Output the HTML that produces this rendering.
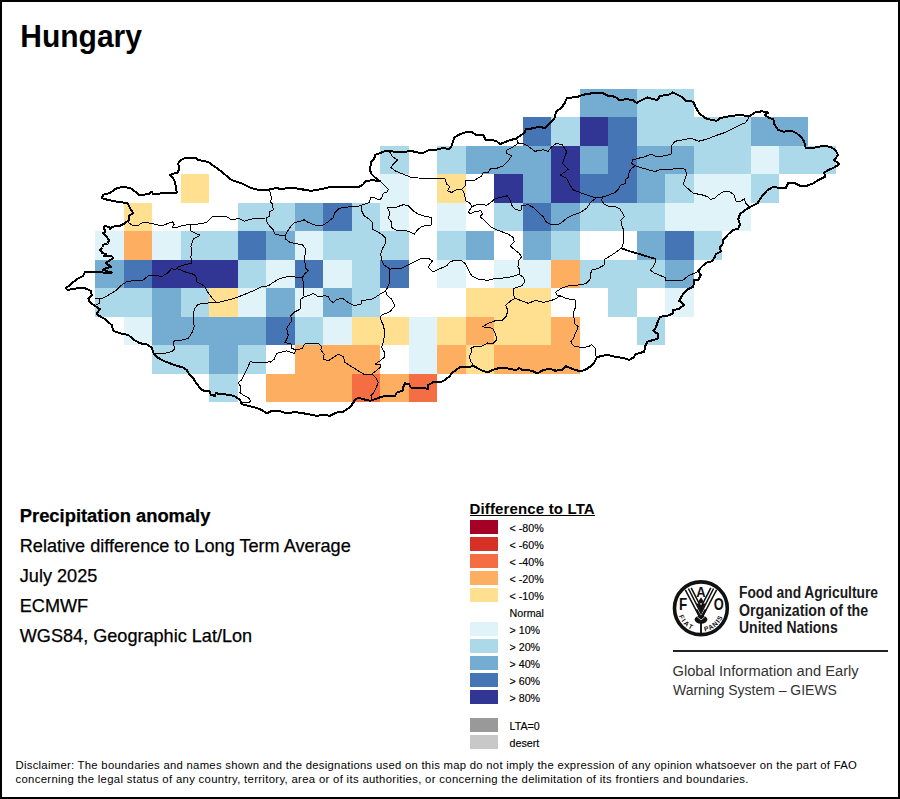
<!DOCTYPE html>
<html lang="en"><head><meta charset="utf-8"><title>Hungary - Precipitation anomaly</title>
<style>
html,body{margin:0;padding:0;background:#fff}
body{width:900px;height:799px;position:relative;overflow:hidden;font-family:"Liberation Sans",sans-serif;color:#000}
#frame{position:absolute;left:0;top:0;width:896px;height:795px;border:2px solid #000}
#map{position:absolute;left:0;top:0}
.abs{position:absolute;white-space:nowrap}
#title{left:20.3px;top:19px;font-size:30px;font-weight:bold;line-height:34px;transform-origin:0 0;transform:scaleY(1.055)}
.info{left:19.8px;font-size:18.1px;line-height:20px;-webkit-text-stroke:0.25px #000}
#legtitle{left:469.5px;top:499.5px;font-size:15px;font-weight:bold;line-height:17px;letter-spacing:0.15px}
#legul{position:absolute;left:470px;top:515px;width:125px;height:1px;background:#000}
.sw{position:absolute;left:470px;width:28px;height:14px}
.ll{position:absolute;left:509.5px;font-size:10.7px;line-height:14px;margin-top:0.5px;white-space:nowrap;-webkit-text-stroke:0.15px #000}
.fao{left:739px;font-size:16px;font-weight:bold;line-height:17.5px;color:#1a1a1a;transform-origin:0 0}
#rule{position:absolute;left:673px;top:650px;width:215px;height:1.5px;background:#222}
.giews{left:672.5px;font-size:14.7px;line-height:18.6px;color:#333;transform-origin:0 0}
  .disc{left:15.5px;font-size:11.3px;line-height:14px;letter-spacing:0.277px;color:#000}
</style></head><body>
<div id="frame"></div>
<svg id="map" width="900" height="799" viewBox="0 0 900 799">
<g shape-rendering="crispEdges">
<rect x="580" y="89" width="57" height="28" fill="#74add1"/>
<rect x="637" y="89" width="57" height="28" fill="#abd9e9"/>
<rect x="523" y="117" width="28" height="29" fill="#4575b4"/>
<rect x="551" y="117" width="29" height="29" fill="#abd9e9"/>
<rect x="580" y="117" width="28" height="29" fill="#313695"/>
<rect x="608" y="117" width="29" height="29" fill="#4575b4"/>
<rect x="637" y="117" width="114" height="29" fill="#abd9e9"/>
<rect x="751" y="117" width="57" height="29" fill="#74add1"/>
<rect x="380" y="146" width="29" height="28" fill="#abd9e9"/>
<rect x="437" y="146" width="29" height="28" fill="#abd9e9"/>
<rect x="466" y="146" width="85" height="28" fill="#74add1"/>
<rect x="551" y="146" width="29" height="28" fill="#313695"/>
<rect x="580" y="146" width="28" height="28" fill="#74add1"/>
<rect x="608" y="146" width="29" height="28" fill="#4575b4"/>
<rect x="637" y="146" width="57" height="28" fill="#74add1"/>
<rect x="694" y="146" width="57" height="28" fill="#abd9e9"/>
<rect x="751" y="146" width="28" height="28" fill="#e0f3f8"/>
<rect x="779" y="146" width="57" height="28" fill="#abd9e9"/>
<rect x="181" y="174" width="28" height="29" fill="#fee090"/>
<rect x="380" y="174" width="29" height="29" fill="#e0f3f8"/>
<rect x="437" y="174" width="29" height="29" fill="#fee090"/>
<rect x="494" y="174" width="29" height="29" fill="#313695"/>
<rect x="523" y="174" width="28" height="29" fill="#74add1"/>
<rect x="551" y="174" width="29" height="29" fill="#313695"/>
<rect x="580" y="174" width="57" height="29" fill="#4575b4"/>
<rect x="637" y="174" width="28" height="29" fill="#74add1"/>
<rect x="665" y="174" width="29" height="29" fill="#abd9e9"/>
<rect x="694" y="174" width="57" height="29" fill="#e0f3f8"/>
<rect x="751" y="174" width="28" height="29" fill="#abd9e9"/>
<rect x="124" y="203" width="28" height="28" fill="#fee090"/>
<rect x="238" y="203" width="57" height="28" fill="#abd9e9"/>
<rect x="295" y="203" width="28" height="28" fill="#74add1"/>
<rect x="323" y="203" width="29" height="28" fill="#4575b4"/>
<rect x="352" y="203" width="28" height="28" fill="#abd9e9"/>
<rect x="380" y="203" width="29" height="28" fill="#e0f3f8"/>
<rect x="437" y="203" width="29" height="28" fill="#e0f3f8"/>
<rect x="494" y="203" width="29" height="28" fill="#abd9e9"/>
<rect x="523" y="203" width="28" height="28" fill="#4575b4"/>
<rect x="551" y="203" width="29" height="28" fill="#74add1"/>
<rect x="580" y="203" width="85" height="28" fill="#abd9e9"/>
<rect x="665" y="203" width="86" height="28" fill="#e0f3f8"/>
<rect x="95" y="231" width="29" height="29" fill="#e0f3f8"/>
<rect x="124" y="231" width="28" height="29" fill="#fdae61"/>
<rect x="152" y="231" width="29" height="29" fill="#e0f3f8"/>
<rect x="181" y="231" width="57" height="29" fill="#abd9e9"/>
<rect x="238" y="231" width="28" height="29" fill="#4575b4"/>
<rect x="266" y="231" width="29" height="29" fill="#74add1"/>
<rect x="295" y="231" width="28" height="29" fill="#e0f3f8"/>
<rect x="323" y="231" width="86" height="29" fill="#abd9e9"/>
<rect x="437" y="231" width="29" height="29" fill="#abd9e9"/>
<rect x="466" y="231" width="28" height="29" fill="#74add1"/>
<rect x="523" y="231" width="28" height="29" fill="#74add1"/>
<rect x="551" y="231" width="29" height="29" fill="#abd9e9"/>
<rect x="637" y="231" width="28" height="29" fill="#74add1"/>
<rect x="665" y="231" width="29" height="29" fill="#4575b4"/>
<rect x="694" y="231" width="28" height="29" fill="#abd9e9"/>
<rect x="95" y="260" width="29" height="28" fill="#74add1"/>
<rect x="124" y="260" width="28" height="28" fill="#4575b4"/>
<rect x="152" y="260" width="86" height="28" fill="#313695"/>
<rect x="238" y="260" width="28" height="28" fill="#abd9e9"/>
<rect x="266" y="260" width="29" height="28" fill="#e0f3f8"/>
<rect x="295" y="260" width="28" height="28" fill="#4575b4"/>
<rect x="323" y="260" width="29" height="28" fill="#e0f3f8"/>
<rect x="352" y="260" width="28" height="28" fill="#abd9e9"/>
<rect x="380" y="260" width="29" height="28" fill="#4575b4"/>
<rect x="437" y="260" width="29" height="28" fill="#e0f3f8"/>
<rect x="494" y="260" width="57" height="28" fill="#e0f3f8"/>
<rect x="551" y="260" width="29" height="28" fill="#fdae61"/>
<rect x="580" y="260" width="85" height="28" fill="#abd9e9"/>
<rect x="665" y="260" width="29" height="28" fill="#74add1"/>
<rect x="95" y="288" width="57" height="29" fill="#abd9e9"/>
<rect x="152" y="288" width="29" height="29" fill="#74add1"/>
<rect x="181" y="288" width="28" height="29" fill="#abd9e9"/>
<rect x="209" y="288" width="29" height="29" fill="#fee090"/>
<rect x="238" y="288" width="28" height="29" fill="#e0f3f8"/>
<rect x="266" y="288" width="29" height="29" fill="#74add1"/>
<rect x="295" y="288" width="28" height="29" fill="#e0f3f8"/>
<rect x="323" y="288" width="29" height="29" fill="#74add1"/>
<rect x="352" y="288" width="28" height="29" fill="#abd9e9"/>
<rect x="466" y="288" width="85" height="29" fill="#fee090"/>
<rect x="608" y="288" width="29" height="29" fill="#abd9e9"/>
<rect x="665" y="288" width="29" height="29" fill="#e0f3f8"/>
<rect x="124" y="317" width="28" height="28" fill="#e0f3f8"/>
<rect x="152" y="317" width="114" height="28" fill="#74add1"/>
<rect x="266" y="317" width="29" height="28" fill="#4575b4"/>
<rect x="295" y="317" width="28" height="28" fill="#abd9e9"/>
<rect x="323" y="317" width="29" height="28" fill="#e0f3f8"/>
<rect x="352" y="317" width="57" height="28" fill="#fee090"/>
<rect x="409" y="317" width="28" height="28" fill="#e0f3f8"/>
<rect x="437" y="317" width="29" height="28" fill="#fee090"/>
<rect x="466" y="317" width="28" height="28" fill="#fdae61"/>
<rect x="494" y="317" width="57" height="28" fill="#fee090"/>
<rect x="551" y="317" width="29" height="28" fill="#fdae61"/>
<rect x="637" y="317" width="28" height="28" fill="#abd9e9"/>
<rect x="152" y="345" width="57" height="29" fill="#abd9e9"/>
<rect x="209" y="345" width="29" height="29" fill="#74add1"/>
<rect x="238" y="345" width="28" height="29" fill="#abd9e9"/>
<rect x="295" y="345" width="85" height="29" fill="#fdae61"/>
<rect x="409" y="345" width="28" height="29" fill="#e0f3f8"/>
<rect x="437" y="345" width="29" height="29" fill="#fdae61"/>
<rect x="466" y="345" width="28" height="29" fill="#fee090"/>
<rect x="494" y="345" width="86" height="29" fill="#fdae61"/>
<rect x="209" y="374" width="29" height="28" fill="#abd9e9"/>
<rect x="266" y="374" width="86" height="28" fill="#fdae61"/>
<rect x="352" y="374" width="28" height="28" fill="#f46d43"/>
<rect x="380" y="374" width="29" height="28" fill="#fdae61"/>
<rect x="409" y="374" width="28" height="28" fill="#f46d43"/>
</g>
<path d="M128.3,222.5 L133.3,225.8 L137.5,225.8 L141.7,223 L146.7,222.5 L155,224.2 L161.7,225.8 L168.3,223.3 L172.5,221.7 L174.2,224.2 L172.5,227 L175,228 L181.7,225.8 L190,224.2 L196.7,224.2 L206.7,222.5 L211.7,217 L218.3,216.3 L226.7,216.7 L231.7,220 L238.3,218.3 L244.2,221.3 L250,219.2 L258.3,218.3 L265.8,218 M265.8,218 L270,215.8 L269.7,211.7 L273.3,210 L272.5,204.2 L270,201.7 L271.7,198.3 L270,191.7 L269.7,189.7 M266.7,217.5 L266.7,221.7 L270,226.7 L273.3,230 L275,234.2 L280,235.3 L285,235.3 M285,235.3 L288.3,230 L291.7,225 L295,222.5 L301.7,220.8 L304.2,219.7 L308.3,222.5 L315,225 L323.3,225 L328.3,221.7 L333.3,217.5 L335,212.5 L339.2,208.3 L345,207.5 L348.3,207 L356.7,206.7 L361.7,205 M361.7,205 L369.2,202.5 L370.8,197.5 L375,198 L379.2,200 L381.7,198.3 L383.3,193.3 L387.5,191.7 L388.3,189.2 L385.8,186.7 L383.3,184.2 L380,181.3 M361.7,205 L361.7,210.8 L364.2,215.8 L369.2,219.2 L372.5,222.5 L372.5,229.2 L377.5,231.7 L382.5,235 L385.8,238.3 L385,244.2 L382.5,248.3 L380.8,253.3 L381.3,260 L384.2,265 L390,269.2 M390,269.2 L395,268 L401.7,268.3 L408.3,265 L415,261.7 L421.7,258 L428.3,258.3 L432.5,260.8 L430,264.2 L428.3,267.5 L433.3,272 L440,268.7 L446.7,265.8 L450,261.7 L455,260.3 L461.7,260.8 L465.8,264.2 L468.3,270 L471.7,275.8 L478.3,279.2 L485,280 L488.3,280.3 L495,278.3 L503.3,278 L511.7,276.7 L519.2,274.2 M390,269.2 L389.2,275.8 L390,281.7 L387.5,287.5 L385.8,290.8 M385.8,290.8 L380,294.2 L375,297.5 L370.8,299.7 L361.7,300.3 L360.8,304.7 L353.3,305.3 L347.5,302 L342.5,298.3 L338.3,299.2 L336.7,299.2 L333.3,302.5 L330,300 L328.3,296.7 L325,295.8 L318.3,296.7 L313.3,293.3 L308.3,295.8 L304.2,296.7 M385.8,290.8 L386.7,295 L391.7,299.2 L395,305.8 L390,311.7 L381.7,315 L380,318.3 L383.3,325 L385,333.3 L383.3,341.7 L381.7,347.5 L384.2,351.7 L384.2,357.5 L380,360.8 L375,364.2 L380.8,364.2 L380,367.5 L375,371.7 L371.7,374.2 M371.7,374.2 L375.8,377.5 L378.3,382.5 L375.8,388.3 L373.3,393.3 L370.8,395.8 L372.5,400 M371.7,374.2 L365,375 L358.3,370.8 L351.7,366.7 L345,362.5 L343.3,356.7 L338.3,354.2 L333.3,357.5 L328.3,360.8 L323.3,359.2 L324.2,354.2 L320.8,350 L321.7,346.7 L318.3,343.3 L311.7,343 L304.2,344.2 L302.5,348.3 L295.8,350 M295.8,350 L291.7,348.3 L291.7,344.2 L285,342.5 L288.3,335.8 L286.7,328.3 L291.7,320.8 L290.8,315.8 L295,311.7 L300,309.2 L300,304.2 L300.8,299.2 L304.2,296.7 M295.8,350 L294.2,353.3 L286.7,350.8 L276.7,353.3 L274.2,359.2 L270,362.5 L270,361.7 L261.7,363 L255,362.5 L250,361.7 L248.3,366.7 L245,373.3 L241.7,380 L238.3,382.5 L240.8,386.7 L240,392.5 L243.3,395 L248.3,397.5 L250.8,400.8 L248.3,403 L241.7,402.5 L240,400 M304.2,296.7 L303,290 L303.3,283.3 L302.5,277.5 M302.5,277.5 L305,273.3 L308.3,270.8 L305.8,268.3 L305,263.3 L304.2,258.3 L305,255 L305.8,249.2 L302.5,245 L296.7,243.7 L290,242.5 L285.8,239.2 L285,235.3 M302.5,277.5 L295,277 L286.7,276.7 L278.3,279.2 L271.7,283.3 L268.3,285.8 L261.7,286.7 L253.3,290.8 L245,294.2 L236.7,297.5 L228.3,300 L220,302 L215.8,302 M215.8,302 L208.3,303 L201.7,303.3 L197.5,305 L194.2,309.2 L193.3,318.3 L194.2,326.7 L191.7,333.3 L188.3,338.3 L181.7,340 L174.2,340.8 L173.3,344.2 L175,348.3 L171.7,351.7 L165,353.3 L158.3,353.3 L155,353.3 M215.8,302 L211.7,297.5 L207.5,291.7 L205,286.7 L200,283.3 L196.7,281.7 L195.8,275.8 L193.3,274.2 L186.7,272.5 L177.5,268.7 M191.7,263.3 L185,264.7 L178.3,266.7 L175,270 L171.7,268.3 L168.3,272.5 L161.7,276.7 L155,275 L148.3,275.8 L143.3,280 L135,280.3 L126.7,281.7 L121.7,285 L116.7,290 L110,294.2 L103.3,298 L95.8,298.3 M95.8,298.3 L100,299.2 L99.2,303.3 L95.8,305.3 M190,223.7 L190.8,230.8 L200,235.3 L193.3,239.2 L190.8,246.7 L192,250.8 L190.8,256.7 L191.7,263.3 M390,152.5 L392.5,156.7 L397.5,160 L393.3,164.2 L390.8,167.5 L395,170.8 L403.3,174.2 L410,177 L418.3,178 L428.3,178.3 L438.3,178.3 L445,178.7 L446.7,184.2 L450,186.7 L447.5,190.8 L451.7,192.5 L457.5,189.2 L461.7,189.2 M516.7,139.2 L518.3,143.3 L513.3,146.7 L506.7,150 L506.7,153.3 L511.7,155.8 L508.3,160.8 L503.3,165.8 L496.7,168.3 L490.8,168.3 L488.3,172.5 L483.3,172 L481.7,175.8 L475,180 L468.3,180.8 L465.8,180 L465.8,185 L461.7,189.2 M518.3,143.3 L525,144.2 L530,147.5 L535,151.3 L543.3,149.7 L548.3,151.3 L551.7,146.7 L556.7,143.3 L562.5,145 L566.7,151.7 L564.2,158.3 L562.5,163.3 L568.3,169.2 L564.2,172.5 L560,175 L566.7,178.3 L570,185 L573.3,190 L580,192.5 L586.7,195 L595,197.5 L596.7,197.5 M461.7,189.2 L464.2,193.3 L465.8,200.8 L470,203.3 L472,206.7 M472,206.7 L475.8,205 L481.7,204.2 L486.7,205.3 L491.7,201.7 L494.2,199.2 L500,197.5 L507.5,195.8 L510,200 L511.7,205 L515,209.2 L520.8,210.8 L521.7,205.8 L528.3,204.7 L533.3,207.5 L538.3,212.5 L543.3,216.7 L545.8,221.7 L551.7,224.7 L556.7,225 L561.7,222.5 L566.7,218.3 L573.3,215 L580,212.5 L586.7,208.3 L590,203.3 L592.5,200.8 L596.7,197.5 M472,206.7 L468.3,211.7 L470,213.7 L475,211.7 L480.8,210.8 L482.5,214.2 L480,216.7 L485,220.8 L490.8,226.7 L495,229.2 L501.7,231.7 L508.3,234.2 L513.3,237.5 L514.2,241.7 L510,245.8 L515,250 L519.2,253.3 L521.7,256.7 L518.3,260.8 L518,266.7 L520,270 L519.2,274.2 M519.2,274.2 L523.3,277.5 L525,281.7 L521.7,285.8 L513.3,288.7 L513,293.3 L515,298.3 M515,298.3 L521.7,300.8 L528.3,303.3 L535.8,300.3 L543.3,302.5 L550,300.8 L555,299.2 L560,295.8 M560,295.8 L556.7,295 L555.8,292 L561.7,288 L568.3,285.8 L575,285.3 L581.7,284.7 L586.7,283 L590,279.2 L590.8,273.3 L591.7,270 L598.3,268.3 L604.2,265 L605,259.2 L611.7,255 L616.7,251.7 L621.7,247.5 L621.7,248.3 M560,295.8 L566.7,298.7 L575,300 L575.8,306.7 L573.3,312.5 L574.2,320 L575,324.2 L578.3,326.7 L575.8,332.5 L573.3,338.3 L570.8,341.7 L573.3,345.8 L581.7,347.5 L588.3,346.7 L591.7,344.7 L595,348.3 L595.8,351.7 L595,354.2 L596.7,357 M515,298.3 L510.8,300.8 L505.8,305 L507.5,310 L506.7,315.8 L501.7,320.8 L495,320.8 L488.3,323.3 L482.5,326.7 L492.5,328.3 L495.8,334.2 L496.7,340 L493.3,343.3 L487.5,343 L481.7,346.3 L475,346.3 L470.8,348.3 L471.7,351.7 L469.2,356.7 L470.8,361.7 L474.2,366.3 M621.7,248.3 L623.3,243.3 L623.7,236.7 L623.3,229.2 L621.7,225 L620.8,220 L624.2,216.7 L623.3,214.2 L620,209.2 L615,206.3 L609.2,206.7 L604.2,204.2 L601.7,200.8 L602.5,197 L596.7,197.5 M602.5,197 L608.3,195.3 L615,192.5 L618.3,189.2 L620.8,185 L625.8,183.3 L625,180 L628.3,177.5 L629.2,171.7 L631.7,168.3 L635,165.8 M635,165.8 L631.7,163.3 L632.5,160 L638.3,158.3 L645,156.7 L650.8,154.2 L656.7,156.7 L665,155.8 L670.8,154.2 L672,151.7 L671.3,145.8 L675,141.3 L683.3,139.7 L691.7,138.3 L698.3,141.3 L706.7,139.2 L716.7,135.3 L725,132.5 L731.7,129.2 L740,125 L745.8,122.5 L749.2,116.7 M635,165.8 L643.3,168.3 L651.7,170.8 L655.8,171.3 L660,169.7 L668.3,169.7 L675,168.7 L680,168 L685,169.2 L686.7,174.2 L685,179.2 L683.3,184.2 L687.5,188.3 L693.3,193.3 L701.7,194.7 L707.5,196.7 L710,199.2 L714.2,198.7 L718.3,195 L723.3,191.7 L730,192 L734.2,195 L736.3,201.7 L740,201.7 L744.2,198.7 L745.8,203.3 L749.2,206.7 M621.7,248.3 L628.3,250.8 L636.7,253.3 L645,255.8 L653.3,258.3 L655,258.3 L655.3,262.5 L653,266.7 L650.3,270 L654.2,273 L665,277.5 L665.8,280.8 L675,280.8 L683.3,280 L688.3,275.8 L694.2,273.3 L698.3,271.3 M387.5,208 L396.7,207 L403.3,204.7 L408.3,205.8 L413.3,210.8 L418.3,214.2 L425,216.3 L431.7,217.5 L431.3,225 L421.7,226.3 L417.5,230 L414.2,234.2 L408.3,231.3 L403.3,230 L395.8,230 L391.7,227.5 L391.3,221.7 L388.3,218.3 L390,213.3 L387.5,208" fill="none" stroke="#000" stroke-width="1" stroke-linejoin="round" stroke-linecap="round" shape-rendering="crispEdges"/>
<path d="M621.7,248.3 L628.3,250.8 L636.7,253.3 L645,255.8 L653.3,258.3" fill="none" stroke="#000" stroke-width="1.8" stroke-linejoin="round" shape-rendering="crispEdges"/>
<path d="M65.8,288.3 L70.8,284.2 L76.7,279.2 L83.3,275.8 L85,271.7 L95,272 L103.3,272.5 L111.7,272.5 L103.1,270 L105.7,268.2 L111,266.9 L110,266 L105.7,263.2 L110,260.1 L113.5,258.2 L111.9,256.3 L103.8,256 L106.3,254.1 L102.5,253.2 L100.3,250 L102.5,247.5 L103.1,244.7 L107.5,243.5 L109.1,240.7 L106.3,236.3 L102.8,232.8 L105.3,232.2 L105,230 L103.5,228.1 L104.4,226.3 L108.8,226.6 L110,229.1 L111.9,226.6 L118.8,226.3 L125.1,223.1 L128.8,220 L129.2,215.8 L133.3,213 L130,208.3 L127.5,203 L116.7,201.7 L105,199.2 L101.7,198 L103.3,194.7 L110,193 L115.8,188.7 L123.3,186.7 L131.7,188.7 L139.2,195 L148.3,194.2 L151.7,191.7 L153.3,194.2 L165,193 L165,193.3 L176.7,192.5 L175,181.7 L172.5,177.5 L169.7,175 L177.5,172.5 L179.2,169.2 L178.3,163.3 L180.8,160 L186.7,157.5 L195.8,157.5 L198.3,160 L208.3,162 L218.3,169.2 L231.7,180 L241.7,183.3 L251.7,188.3 L258.3,189.7 L268.3,189.7 L275,188.3 L281.7,188.7 L293.3,188 L305,189.7 L303.3,190 L311.7,190.8 L323.3,188.7 L330.8,186.7 L340,187.5 L350,186.7 L358.3,187.5 L363.3,184.2 L365.8,180.8 L373.3,180.3 L380,181.3 L375,177.5 L370.8,173.3 L370,168.3 L371.3,161.7 L374.2,159.2 L375,155 L381.7,152.5 L385.8,150.8 L395,151.7 L403.3,152.5 L410,150.8 L418.3,152.5 L424.2,152.5 L428.3,150.3 L436.7,149.7 L435,150 L443.3,148 L449.2,149.2 L451.7,145.8 L454.2,137.5 L460,134.2 L466.7,132 L472.5,132.5 L476.7,135.3 L483.3,135 L485.8,140 L491.7,140 L496.7,141.3 L500,144.2 L508.3,140.8 L516.7,138.3 L520,135.8 L525,132.5 L525.8,129.2 L533.3,128.3 L538.3,126.7 L545,128 L550,123.3 L555,117.5 L555.8,111.7 L561.7,107.5 L565,102.5 L566.7,98.3 L571.7,97.5 L580,96.3 L581.7,95 L591.7,93.3 L601.7,92.5 L608.3,95.8 L615,96.7 L619.2,100 L626.7,99.2 L632.5,100 L636.7,103 L641.7,100 L647.5,97.5 L653.3,99.2 L657.5,100 L660,95.8 L668.3,95 L672.5,92.5 L678.3,95 L682.5,97.5 L685.8,100.8 L693.3,101.7 L695.8,107.5 L700,114.2 L705.8,118.3 L711.7,120 L716.7,120.8 L720,118.3 L723.3,117.5 L731.7,115.8 L740,115 L749.2,116.3 L755,112.5 L761.7,111.3 L768.3,112.5 L765,115 L768.3,117.5 L773.3,119.2 L774.2,124.2 L778.3,130 L783.3,131.7 L791.7,130.8 L796.7,133.3 L801.7,137.5 L804.2,141.7 L805.8,148.3 L811.7,148.3 L818.3,146.7 L825,145.8 L831.7,147.5 L835.8,150.8 L838,155 L834.2,160 L839.2,164.2 L834.2,167.5 L828.3,170 L824.2,172.5 L825,176.7 L818.3,180 L813.3,183.3 L806.7,185.8 L800,185.8 L793.3,182.5 L788.3,182.5 L785.8,188.3 L780,188.3 L773.3,186.7 L766.7,190.8 L761.7,196.7 L757.5,203.3 L750.8,206.7 L745,210 L744.2,210.8 L740,214.2 L738.3,219.2 L740,224.2 L738.3,228.7 L733.3,230 L728.3,234.2 L723.3,240 L722.5,244.2 L720,247.5 L720.8,251.7 L715.8,254.2 L714.2,258.3 L711.7,261.3 L706.7,262.5 L701.7,266.7 L698.3,270.8 L700.8,275 L698.3,280 L694.2,280 L693.3,286.7 L686.7,290 L682.5,295 L679.2,300.8 L684.2,305 L678.3,309.2 L672.5,310 L673.3,313.3 L667.5,315.8 L660,316.7 L657.5,322.5 L655.8,327.5 L653.3,330.8 L658.3,334.2 L658.3,338.3 L653.3,340 L647.5,341.7 L645,346.7 L644.2,351.7 L635.8,354.2 L633.3,357.5 L629.2,360 L623.3,358 L615,356.7 L608.3,355 L601.7,355.8 L596.7,357.5 L594.2,362.5 L590,366.7 L585,370 L580,371.3 L573.3,369.2 L565.8,366.3 L561.7,370 L555,370.8 L555,369.7 L546.7,369.2 L541.7,370.8 L537.5,373.3 L531.7,370.8 L526.7,370 L521.7,369.7 L519.2,368 L515.8,370.3 L511.7,369.2 L505,368 L498.3,368.3 L493.3,369.7 L488.3,372 L483.3,371.3 L478.3,368.7 L474.2,366.3 L468.3,366.7 L460,367 L455,370.8 L452.5,372.5 L450,375.8 L445,380 L440,382.5 L434.2,381.7 L428.3,385 L428.3,388.7 L421.7,388 L410.8,387.5 L409.2,384.2 L405,383.3 L403.3,386.7 L402.5,390.8 L396.7,392.5 L395,395.8 L388.3,395.8 L381.7,396.7 L375,399.2 L370,400.8 L363.3,399.2 L358.3,397.5 L355,400 L351.7,405 L348.3,408.3 L343.3,411.7 L336.7,412.5 L330,415.8 L323.3,415 L316.7,415.8 L308.3,414.2 L301.7,413 L295,412 L286.7,413.3 L280,411.3 L271.7,410.8 L266.7,413.3 L261.7,410 L255,407.5 L248.3,405.8 L241.7,404.2 L240,400 L235.8,396.7 L230,395 L223.3,394.2 L215.8,393.3 L215,395.8 L210.8,395 L209.2,390.8 L205,391.3 L200.8,389.2 L198.3,385.8 L195.8,382.5 L193.3,378.3 L189.2,374.2 L186.7,370 L183.3,367.5 L176.7,365.8 L170,363.3 L163.3,360.8 L157.5,357.5 L153.7,353.3 L151.7,347.5 L146.7,344.2 L140,343.3 L134.2,340 L128.3,335 L120,333.3 L113.3,330.8 L111.7,325 L105,319.2 L99.2,315.8 L96.7,313.3 L100,309.2 L95,305.8 L90,302.5 L88.3,298.3 L91.7,295 L90.8,290.8 L85,288.3 L76.7,288.3 L67.5,290 L65.8,288.3Z" fill="none" stroke="#000" stroke-width="2" stroke-linejoin="round" shape-rendering="crispEdges"/>
</svg>
<div id="title" class="abs">Hungary</div>
<div class="abs info" style="top:506px;font-weight:bold;font-size:18.35px">Precipitation anomaly</div>
<div class="abs info" style="top:536px">Relative difference to Long Term Average</div>
<div class="abs info" style="top:566px">July 2025</div>
<div class="abs info" style="top:596px">ECMWF</div>
<div class="abs info" style="top:626px">WGS84, Geographic Lat/Lon</div>
<div id="legtitle" class="abs">Difference to LTA</div><div id="legul"></div>
<div class="sw" style="top:520px;background:#a50026"></div>
<div class="ll" style="top:520px">&lt; -80%</div>
<div class="sw" style="top:537px;background:#d73027"></div>
<div class="ll" style="top:537px">&lt; -60%</div>
<div class="sw" style="top:554px;background:#f46d43"></div>
<div class="ll" style="top:554px">&lt; -40%</div>
<div class="sw" style="top:571px;background:#fdae61"></div>
<div class="ll" style="top:571px">&lt; -20%</div>
<div class="sw" style="top:588px;background:#fee090"></div>
<div class="ll" style="top:588px">&lt; -10%</div>
<div class="ll" style="top:605px">Normal</div>
<div class="sw" style="top:622px;background:#e0f3f8"></div>
<div class="ll" style="top:622px">&gt; 10%</div>
<div class="sw" style="top:639px;background:#abd9e9"></div>
<div class="ll" style="top:639px">&gt; 20%</div>
<div class="sw" style="top:656px;background:#74add1"></div>
<div class="ll" style="top:656px">&gt; 40%</div>
<div class="sw" style="top:673px;background:#4575b4"></div>
<div class="ll" style="top:673px">&gt; 60%</div>
<div class="sw" style="top:690px;background:#313695"></div>
<div class="ll" style="top:690px">&gt; 80%</div>
<div class="sw" style="top:718px;background:#999999"></div>
<div class="ll" style="top:718px">LTA=0</div>
<div class="sw" style="top:735px;background:#c8c8c8"></div>
<div class="ll" style="top:735px">desert</div>
<svg class="abs" style="left:671px;top:578px" width="60" height="60" viewBox="0 0 60 60">
<defs>
<path id="arcL" d="M 7.9,38 A 23.3,23.3 0 0 0 28.5,53.6"/>
<path id="arcR" d="M 33.9,53.3 A 23.3,23.3 0 0 0 53,34.5"/>
</defs>
<circle cx="29.9" cy="30.25" r="26.4" fill="#fff" stroke="#111" stroke-width="3.6"/>
<g fill="none" stroke="#111" stroke-width="1.55" stroke-linejoin="miter">
<path d="M14.3,11.9 L30,41.5 L45.6,11.9"/>
<path d="M17.4,10.5 L30,35.3 L42.6,10.5"/>
<path d="M20.2,9.9 L30,29.1 L39.8,9.9"/>
</g>
<path d="M25.6,25.8 L30,34.8 L34.4,25.8 L32.4,25.2 L30,29.6 L27.6,25.2Z" fill="#111"/>
<path d="M24.2,31.6 L30,42.8 L35.8,31.6 L33.6,31.2 L30,37.6 L26.4,31.2Z" fill="#111"/>
<ellipse cx="30" cy="41.6" rx="6.4" ry="4.1" fill="#111"/>
<path d="M25.6,38.2 L30,42 L34.4,38.2" fill="none" stroke="#fff" stroke-width="0.7"/>
<path d="M30,44 L30,56" stroke="#111" stroke-width="1.9" fill="none"/>
<path d="M30,19.3 C28.6,21.4 27.8,22.6 27.9,23.6 C28,24.8 28.9,25.5 30,25.5 C31.1,25.5 32,24.8 32.1,23.6 C32.2,22.6 31.4,21.4 30,19.3Z" fill="#111"/>
<g font-family="'Liberation Sans',sans-serif" font-weight="bold" fill="#111">
<text x="8.1" y="31.6" font-size="16.6" textLength="8.2" lengthAdjust="spacingAndGlyphs">F</text>
<text x="25.2" y="18.9" font-size="15" textLength="9.4" lengthAdjust="spacingAndGlyphs">A</text>
<text x="42.7" y="31.6" font-size="16.6" textLength="10" lengthAdjust="spacingAndGlyphs">O</text>
<text font-size="6.7" letter-spacing="1.5"><textPath href="#arcL">FIAT</textPath></text>
<text font-size="6.7" letter-spacing="0.9"><textPath href="#arcR">PANIS</textPath></text>
</g>
</svg>
<div class="abs fao" style="top:584.1px;transform:scaleX(0.862)">Food and Agriculture</div>
<div class="abs fao" style="top:601.6px;transform:scaleX(0.886)">Organization of the</div>
<div class="abs fao" style="top:619.1px;transform:scaleX(0.874)">United Nations</div>
<div id="rule"></div>
<div class="abs giews" style="top:662px">Global Information and Early</div>
<div class="abs giews" style="top:680.6px;transform:scaleX(0.95)">Warning System – GIEWS</div>
<div class="abs disc" style="top:758.4px">Disclaimer: The boundaries and names shown and the designations used on this map do not imply the expression of any opinion whatsoever on the part of FAO</div>
<div class="abs disc" style="top:772.3px;letter-spacing:0.333px">concerning the legal status of any country, territory, area or of its authorities, or concerning the delimitation of its frontiers and boundaries.</div>
</body></html>
